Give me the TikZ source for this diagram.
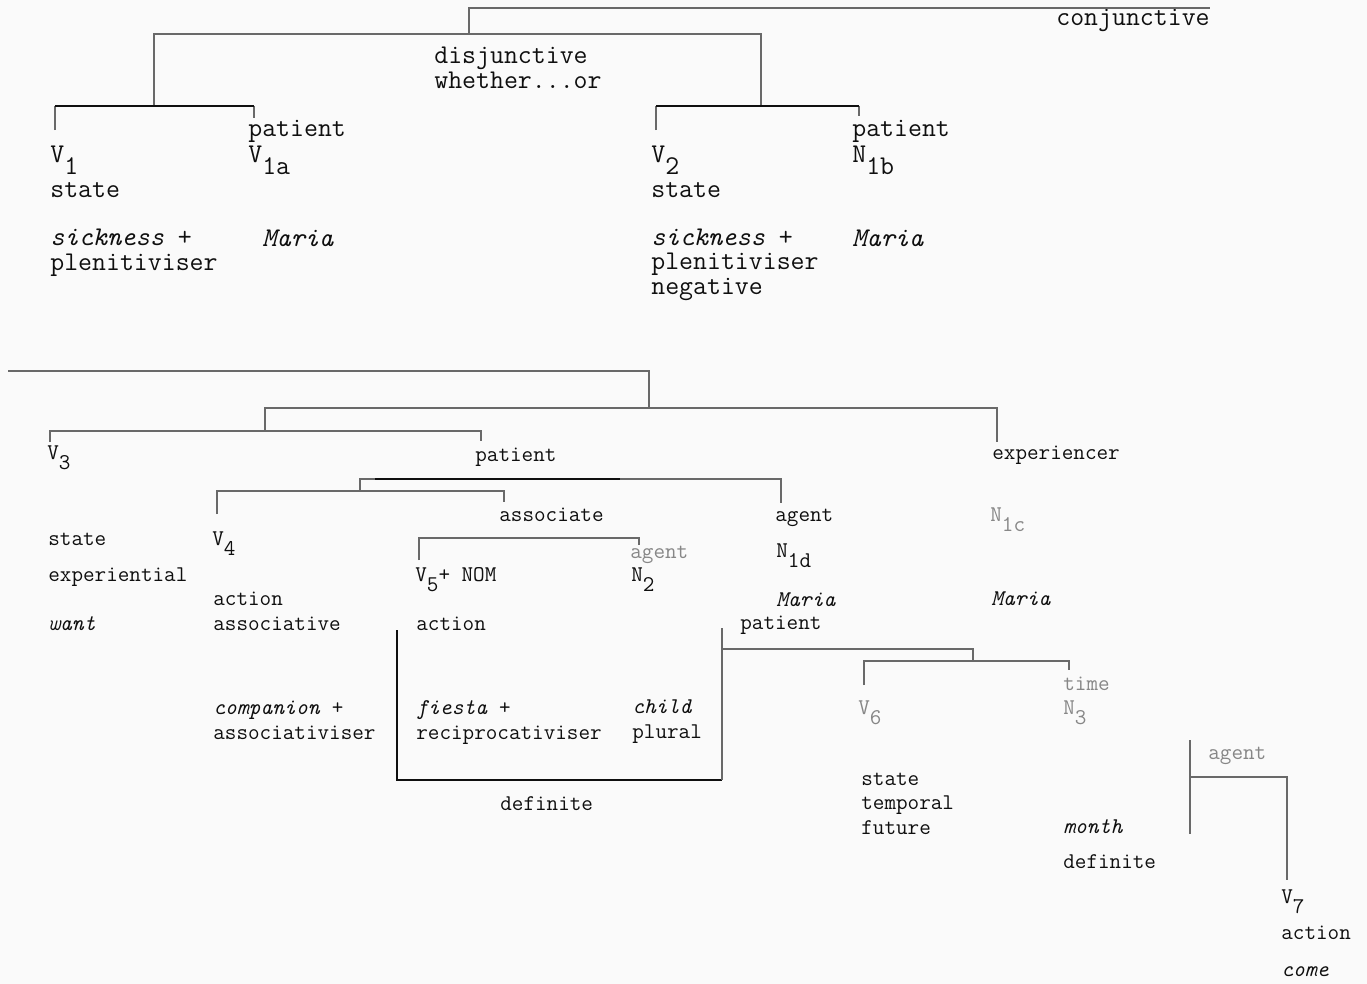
\documentclass[tikz,border=0pt]{standalone}
\usepackage{tikz}
\usetikzlibrary{positioning,calc}
\definecolor{paperWhite}{RGB}{250,250,250}
\definecolor{inkBlack}{RGB}{15,15,15}
\definecolor{lineGray}{RGB}{105,105,105}
\definecolor{faintGray}{RGB}{135,135,135}
\newcommand\lowsub[1]{\raisebox{-0.45em}{#1}}
\tikzset{
  upper label/.style={anchor=base west,inner sep=0pt,align=left,text=inkBlack,font=\fontsize{15.4pt}{13.7pt}\selectfont\ttfamily},
  lower label/.style={anchor=base west,inner sep=0pt,align=left,text=inkBlack,font=\fontsize{12.8pt}{13.9pt}\selectfont\ttfamily},
  faint label/.style={lower label,text=faintGray},
  tree line/.style={draw=lineGray,line width=0.7pt},
  bold line/.style={draw=inkBlack,line width=1.2pt}
}

\begin{document}
\begin{tikzpicture}[x=0.02cm,y=-0.02cm]
  \fill[paperWhite] (0,0) rectangle (1367,984);
  \useasboundingbox (0,0) rectangle (1367,984);
  % upper tree (multi-line labels sit on their last baseline)
  \node[upper label,anchor=base east] (conj) at (1210,25) {conjunctive};
  \node[upper label] (disj) at (434,88) {disjunctive\\whether...or};
  \node[upper label] (v1) at (50,162) {V\lowsub{1}};
  \node[upper label] (v1state) at (50,197) {state};
  \node[upper label] (v1lex) at (50,270) {\textit{sickness} +\\plenitiviser};
  \node[upper label] (pat1) at (248,136) {patient};
  \node[upper label] (v1a) at (248,162) {V\lowsub{1a}};
  \node[upper label] (maria1) at (262,246) {\textit{Maria}};
  \node[upper label] (v2) at (651,162) {V\lowsub{2}};
  \node[upper label] (v2state) at (651,197) {state};
  \node[upper label] (v2lex) at (651,294) {\textit{sickness} +\\plenitiviser\\negative};
  \node[upper label] (pat2) at (852,136) {patient};
  \node[upper label] (n1b) at (852,162) {N\lowsub{1b}};
  \node[upper label] (maria2) at (852,246) {\textit{Maria}};

  \coordinate (conjL) at (469,8);
  \coordinate (conjR) at (1210,8);
  \coordinate (disjL) at (154,34);
  \coordinate (disjR) at (761,34);
  \coordinate (firstL) at (55,106);
  \coordinate (firstR) at (254,106);
  \coordinate (secondL) at (656,106);
  \coordinate (secondR) at (859,106);
  \draw[tree line] (469,34) -- (conjL) -- (conjR);
  \draw[tree line] (disjL |- firstL) -- (disjL) -- (disjR) -- (disjR |- secondL);
  \draw[tree line] ($(firstL)+(0,24)$) -- (firstL);
  \draw[tree line] (firstR) -- ++(0,12);
  \draw[bold line] (firstL) -- (firstR);
  \draw[tree line] ($(secondL)+(0,24)$) -- (secondL);
  \draw[tree line] (secondR) -- ++(0,10);
  \draw[bold line] (secondL) -- (secondR);

  % lower tree
  \node[lower label] (v3) at (47,459) {V\lowsub{3}};
  \node[lower label] (pat3) at (475,461) {patient};
  \node[lower label] (exper) at (992,459) {experiencer};
  \node[lower label] (assoc) at (499,521) {associate};
  \node[lower label] (agent1) at (775,521) {agent};
  \node[faint label] (n1c) at (990,521) {N\lowsub{1c}};
  \node[lower label] (state3) at (48,545) {state};
  \node[lower label] (exp3) at (48,581) {experiential};
  \node[lower label] (want) at (48,630) {\textit{want}};
  \node[lower label] (v4) at (212,545) {V\lowsub{4}};
  \node[faint label] (agent2) at (630,558) {agent};
  \node[lower label] (v5) at (415,581) {V\lowsub{5}+ NOM};
  \node[lower label] (n2) at (631,581) {N\lowsub{2}};
  \node[lower label] (n1d) at (776,557) {N\lowsub{1d}};
  \node[lower label] (act4) at (213,630) {action\\associative};
  \node[lower label] (act5) at (416,630) {action};
  \node[lower label] (maria3) at (776,606) {\textit{Maria}};
  \node[lower label] (pat4) at (740,629) {patient};
  \node[lower label] (maria4) at (991,605) {\textit{Maria}};
  \node[lower label] (comp) at (213,739) {\textit{companion} +\\associativiser};
  \node[lower label] (fiesta) at (416,739) {\textit{fiesta} +\\reciprocativiser};
  \node[lower label] (child) at (632,738) {\textit{child}\\plural};
  \node[lower label] (def1) at (500,810) {definite};
  \node[faint label] (v6) at (858,714) {V\lowsub{6}};
  \node[faint label] (time) at (1063,690) {time};
  \node[faint label] (n3) at (1063,714) {N\lowsub{3}};
  \node[lower label] (st6) at (861,834) {state\\temporal\\future};
  \node[lower label] (month) at (1063,833) {\textit{month}};
  \node[lower label] (def2) at (1063,868) {definite};
  \node[faint label] (agent3) at (1208,759) {agent};
  \node[lower label] (v7) at (1281,903) {V\lowsub{7}};
  \node[lower label] (act7) at (1281,939) {action};
  \node[lower label] (come) at (1281,976) {\textit{come}};

  \coordinate (rootL) at (8,371);
  \coordinate (rootR) at (649,371);
  \coordinate (mainL) at (265,408);
  \coordinate (mainR) at (997,408);
  \coordinate (wantL) at (50,431);
  \coordinate (wantR) at (481,431);
  \coordinate (patL) at (360,479);
  \coordinate (patR) at (781,479);
  \coordinate (assocL) at (217,491);
  \coordinate (assocR) at (504,491);
  \coordinate (nomL) at (419,538);
  \coordinate (nomR) at (639,538);
  \coordinate (boxTL) at (397,630);
  \coordinate (boxBL) at (397,780);
  \coordinate (boxBR) at (722,780);
  \coordinate (boxTR) at (722,628);
  \coordinate (monthL) at (722,649);
  \coordinate (monthR) at (973,649);
  \coordinate (timeL) at (864,661);
  \coordinate (timeR) at (1069,661);
  \coordinate (comeL) at (1190,777);
  \coordinate (comeR) at (1287,777);
  \draw[tree line] (rootL) -- (rootR) -- (rootR |- mainL);
  \draw[tree line] ($(mainL)+(0,22)$) -- (mainL) -- (mainR) -- ++(0,34);
  \draw[tree line] ($(wantL)+(0,11)$) -- (wantL) -- (wantR) -- ++(0,10);
  \draw[tree line] ($(patL)+(0,12)$) -- (patL) -- (patR) -- ++(0,24);
  \draw[bold line,line width=0.9pt] (375,479) -- (620,479);
  \draw[tree line] ($(assocL)+(0,23)$) -- (assocL) -- (assocR) -- ++(0,11);
  \draw[tree line] ($(nomL)+(0,22)$) -- (nomL) -- (nomR) -- ++(0,7);
  \draw[bold line] (boxTL) -- (boxBL) -- (boxBR);
  \draw[tree line] (boxTR) -- (boxBR);
  \draw[tree line] (monthL) -- (monthR) -- (monthR |- timeL);
  \draw[tree line] ($(timeL)+(0,24)$) -- (timeL) -- (timeR) -- ++(0,9);
  \draw[tree line] (1190,740) -- (1190,834);
  \draw[tree line] (comeL) -- (comeR) -- (1287,880);
\end{tikzpicture}
\end{document}
